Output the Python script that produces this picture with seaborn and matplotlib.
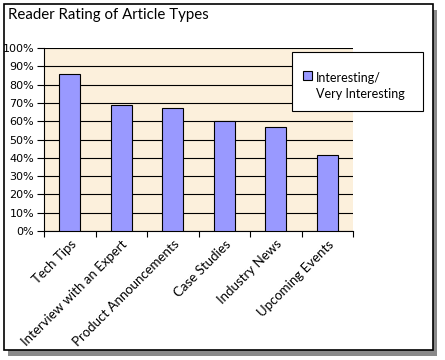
import numpy as np
import pandas as pd
import matplotlib
matplotlib.use('Agg')
import matplotlib.pyplot as plt
import seaborn as sns
from matplotlib.patches import Rectangle
from matplotlib.ticker import PercentFormatter, FixedLocator

# --- data ---
categories = ['Tech Tips', 'Interview with an Expert', 'Product Announcements',
              'Case Studies', 'Industry News', 'Upcoming Events']
ratings = [86, 69, 67, 60, 57, 41.5]
series_label = 'Interesting/\nVery Interesting'

df = pd.DataFrame({'category': categories, 'rating': ratings})

W, H = 445, 360
fig = plt.figure(figsize=(W / 100, H / 100), dpi=100)
fig.patch.set_facecolor('white')

def px(x, y):
    # pixel coords (top-left origin) -> figure fraction
    return x / W, 1 - y / H

# outer frame with drop shadow
fig.patches.append(Rectangle(px(8, 356), 429 / W, 346 / H, transform=fig.transFigure,
                             facecolor='#8a8a8a', edgecolor='none', zorder=0))
fig.patches.append(Rectangle(px(4, 350), 429 / W, 346 / H, transform=fig.transFigure,
                             facecolor='white', edgecolor='black', linewidth=1.2, zorder=1))

ax = fig.add_axes([44 / W, 1 - 231 / H, 309 / W, 183 / H])
ax.set_zorder(2)
ax.set_facecolor('#fcf0dc')

sns.barplot(data=df, x='category', y='rating', ax=ax, color='#9999ff',
            edgecolor='black', linewidth=0.8, width=0.41, saturation=1, zorder=3)

ax.set_ylim(0, 100)
ax.set_xlim(-0.5, len(categories) - 0.5)
ax.yaxis.set_major_locator(FixedLocator(np.arange(0, 101, 10)))
ax.yaxis.set_major_formatter(PercentFormatter(decimals=0))
ax.grid(axis='y', color='black', linewidth=0.8, zorder=1)
ax.set_axisbelow(True)
for s in ['top', 'right']:
    ax.spines[s].set_visible(False)
ax.spines['left'].set_linewidth(0.8)
ax.spines['bottom'].set_linewidth(0.8)
ax.set_xlabel('')
ax.set_ylabel('')

ax.tick_params(axis='y', labelsize=8, length=5, width=0.8, pad=2)
for t in ax.get_yticklabels():
    t.set_family('DejaVu Sans')

# category ticks between bars
ax.set_xticks(np.arange(len(categories)))
ax.set_xticklabels(categories, rotation=45, ha='right', rotation_mode='anchor',
                   fontsize=9.5, family='Lato')
ax.tick_params(axis='x', length=0, pad=5)
ax.set_xticks(np.arange(len(categories) + 1) - 0.5, minor=True)
ax.tick_params(axis='x', which='minor', length=4, width=0.8)

fig.text(*px(8, 15), 'Reader Rating of Article Types', fontsize=10.8,
         family='Lato', va='center', ha='left', zorder=3)

# legend box (drawn over the plot area)
fig.patches.append(Rectangle(px(292, 111), 131 / W, 59 / H, transform=fig.transFigure,
                             facecolor='white', edgecolor='black', linewidth=0.8, zorder=5))
fig.patches.append(Rectangle(px(303, 80), 8.5 / W, 8.5 / H, transform=fig.transFigure,
                             facecolor='#9999ff', edgecolor='black', linewidth=0.8, zorder=6))
fig.text(*px(316, 86), series_label, fontsize=9, family='Lato', va='center', ha='left',
         linespacing=1.45, zorder=6)

fig.savefig('out.png', dpi=100)
